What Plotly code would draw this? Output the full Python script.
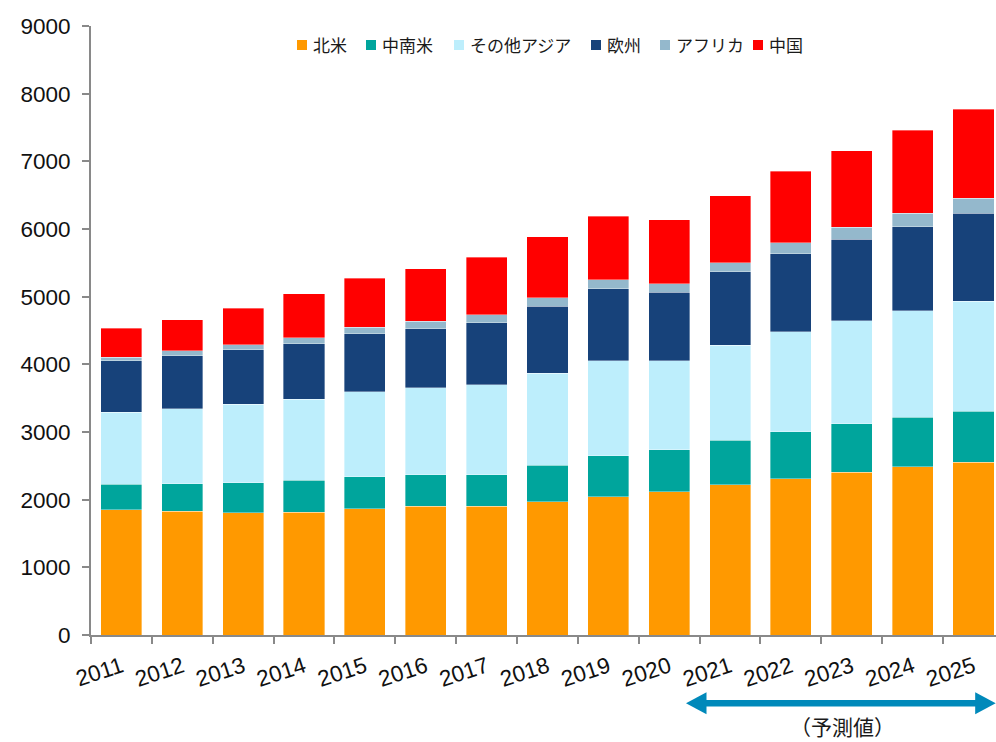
import plotly.graph_objects as go

# Years and regional values (stacked, bottom to top)
years = ["2011", "2012", "2013", "2014", "2015", "2016", "2017", "2018",
         "2019", "2020", "2021", "2022", "2023", "2024", "2025"]

north_america = [1850, 1830, 1805, 1815, 1865, 1905, 1905, 1970, 2040, 2115, 2220, 2310, 2405, 2485, 2555]
latin_america = [375, 405, 445, 470, 475, 465, 465, 540, 610, 620, 655, 695, 720, 730, 755]
other_asia = [1070, 1110, 1160, 1200, 1255, 1285, 1325, 1360, 1405, 1315, 1410, 1475, 1520, 1575, 1625]
europe = [760, 785, 805, 820, 860, 870, 920, 985, 1060, 1015, 1080, 1155, 1205, 1245, 1295]
africa = [50, 70, 75, 90, 95, 110, 120, 130, 135, 125, 135, 160, 175, 200, 225]
china = [425, 460, 540, 645, 725, 780, 850, 900, 940, 945, 995, 1055, 1135, 1225, 1315]

series_names = ["北米", "中南米", "その他アジア", "欧州", "アフリカ", "中国"]
series_values = [north_america, latin_america, other_asia, europe, africa, china]
series_colors = ["#FF9900", "#00A59C", "#BDEEFC", "#17427A", "#94B8CC", "#FF0000"]

forecast_label = "（予測値）"

NUM_FONT = "Liberation Sans, Arial, sans-serif"
JP_FONT = "Noto Sans CJK JP, sans-serif"
AXIS_GREY = "#898989"
ARROW_BLUE = "#0089BA"

# Plot-area geometry in pixels (used to place legend and arrow in paper units)
W, H = 996, 742
L, T, B = 91, 26, 107
PW, PH = W - L, H - T - B


def px_x(x):
    return (x - L) / PW


def px_y(y):
    return (H - B - y) / PH


fig = go.Figure()
for name, vals, col in zip(series_names, series_values, series_colors):
    fig.add_trace(go.Bar(
        x=years, y=vals, name=name, showlegend=False,
        marker=dict(color=col, line=dict(color="rgba(255,255,255,0.45)", width=0.8)),
    ))

# Custom legend row across the top
legend_sq_x = [302, 371, 459, 596, 665, 758]
legend_y = 45
shapes = []
annotations = []
for name, col, cx in zip(series_names, series_colors, legend_sq_x):
    shapes.append(dict(type="rect", xref="paper", yref="paper",
                       x0=px_x(cx - 5), x1=px_x(cx + 5),
                       y0=px_y(legend_y + 5), y1=px_y(legend_y - 5),
                       fillcolor=col, line=dict(width=0)))
    annotations.append(dict(text=name, xref="paper", yref="paper",
                            x=px_x(cx + 9), y=px_y(legend_y), xanchor="left", yanchor="middle",
                            showarrow=False, font=dict(family=JP_FONT, size=17, color="#1a1a1a")))

# Double-headed arrow marking the forecast period
ay = 703.3
x_left, x_right = 686.0, 995.7
head = 20.5
half = 11
shapes.append(dict(type="line", xref="paper", yref="paper",
                   x0=px_x(x_left + head - 1), x1=px_x(x_right - head + 1),
                   y0=px_y(ay), y1=px_y(ay), line=dict(color=ARROW_BLUE, width=6.5)))
shapes.append(dict(type="path", xref="paper", yref="paper",
                   path=f"M {px_x(x_left)} {px_y(ay)} L {px_x(x_left + head)} {px_y(ay - half)} "
                        f"L {px_x(x_left + head)} {px_y(ay + half)} Z",
                   fillcolor=ARROW_BLUE, line=dict(width=0)))
shapes.append(dict(type="path", xref="paper", yref="paper",
                   path=f"M {px_x(x_right)} {px_y(ay)} L {px_x(x_right - head)} {px_y(ay - half)} "
                        f"L {px_x(x_right - head)} {px_y(ay + half)} Z",
                   fillcolor=ARROW_BLUE, line=dict(width=0)))
annotations.append(dict(text=forecast_label, xref="paper", yref="paper",
                        x=px_x(842), y=px_y(742), xanchor="center", yanchor="bottom",
                        showarrow=False, borderpad=0,
                        font=dict(family=JP_FONT, size=21, color="#1a1a1a")))

fig.update_layout(
    width=W, height=H,
    margin=dict(l=L, r=0, t=T, b=B, autoexpand=False),
    barmode="stack", bargap=0.325,
    plot_bgcolor="white", paper_bgcolor="white",
    shapes=shapes, annotations=annotations,
    xaxis=dict(
        type="category", range=[-0.5, 14.37], tickson="boundaries",
        showline=True, linecolor=AXIS_GREY, linewidth=2,
        ticks="outside", ticklen=7, tickwidth=2, tickcolor=AXIS_GREY,
        tickangle=-18, ticklabelstandoff=8,
        tickfont=dict(family=NUM_FONT, size=22.5, color="#111"),
        showgrid=False, automargin=False,
    ),
    yaxis=dict(
        range=[0, 9000], dtick=1000, tick0=0,
        showline=True, linecolor=AXIS_GREY, linewidth=2,
        ticks="outside", ticklen=7, tickwidth=2, tickcolor=AXIS_GREY,
        ticklabelstandoff=7,
        tickfont=dict(family=NUM_FONT, size=22.5, color="#111"),
        showgrid=False, zeroline=False, automargin=False,
    ),
)

fig.write_html("out.html")
